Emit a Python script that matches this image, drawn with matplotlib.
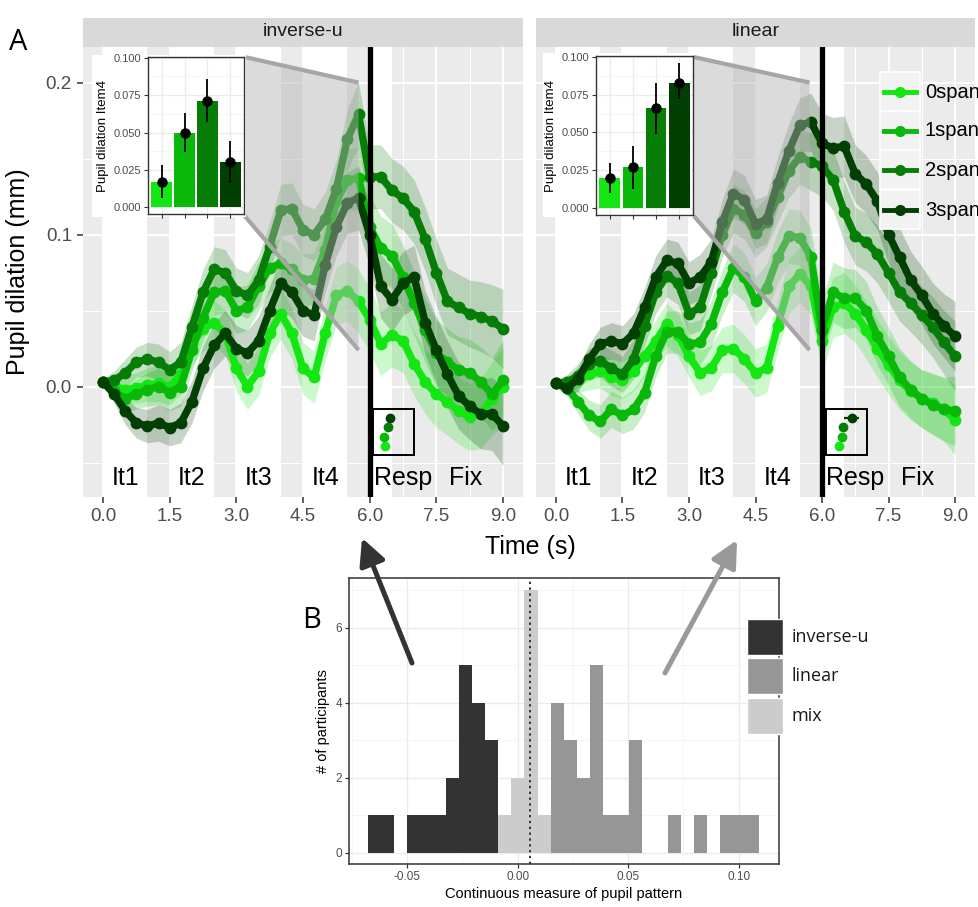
import matplotlib
matplotlib.use("Agg")
import matplotlib.pyplot as plt
from matplotlib.patches import Rectangle, Polygon, FancyArrowPatch
from matplotlib.lines import Line2D

plt.rcParams["font.family"] = ["Liberation Sans", "DejaVu Sans"]

W, H = 979, 907

# ---- panel A data ----
TIME = [0.0, 0.25, 0.5, 0.75, 1.0, 1.25, 1.5, 1.75, 2.0, 2.25, 2.5, 2.75, 3.0,
        3.25, 3.5, 3.75, 4.0, 4.25, 4.5, 4.75, 5.0, 5.25, 5.5, 5.75, 6.0, 6.25,
        6.5, 6.75, 7.0, 7.25, 7.5, 7.75, 8.0, 8.25, 8.5, 8.75, 9.0]
SPANS = ["0span", "1span", "2span", "3span"]
SPAN_COLORS = ["#14E614", "#0AB80A", "#067D06", "#023F02"]

INVU_0 = [0.003, 0.000, -0.002, -0.001, 0.001, 0.002, 0.000, 0.008, 0.028, 0.038, 0.042, 0.035, 0.012,
          0.000, 0.010, 0.035, 0.048, 0.035, 0.012, 0.006, 0.035, 0.060, 0.063, 0.056, 0.044, 0.028,
          0.034, 0.030, 0.015, 0.003, -0.005, -0.010, -0.016, -0.020, -0.018, -0.008, 0.000]
INVU_1 = [0.003, -0.003, -0.008, -0.005, -0.002, 0.000, -0.004, 0.000, 0.024, 0.045, 0.062, 0.063, 0.050,
          0.052, 0.066, 0.078, 0.081, 0.077, 0.070, 0.071, 0.090, 0.122, 0.136, 0.137, 0.105, 0.091,
          0.086, 0.072, 0.055, 0.037, 0.022, 0.016, 0.011, 0.009, 0.003, -0.005, 0.004]
INVU_2 = [0.003, 0.004, 0.009, 0.016, 0.018, 0.016, 0.011, 0.016, 0.039, 0.062, 0.077, 0.075, 0.063,
          0.060, 0.070, 0.092, 0.116, 0.117, 0.103, 0.100, 0.110, 0.130, 0.163, 0.179, 0.138, 0.138,
          0.129, 0.124, 0.115, 0.097, 0.075, 0.056, 0.052, 0.048, 0.046, 0.043, 0.038]
INVU_3 = [0.003, -0.005, -0.016, -0.024, -0.026, -0.024, -0.027, -0.024, -0.010, 0.012, 0.027, 0.035, 0.025,
          0.022, 0.030, 0.050, 0.068, 0.062, 0.050, 0.047, 0.080, 0.105, 0.121, 0.124, 0.100, 0.066,
          0.057, 0.068, 0.072, 0.042, 0.024, 0.008, -0.006, -0.013, -0.018, -0.018, -0.026]
SE_INVU = [0.002, 0.006, 0.009, 0.010, 0.011, 0.012, 0.012, 0.013, 0.014, 0.015, 0.015, 0.015, 0.015,
           0.015, 0.016, 0.016, 0.017, 0.017, 0.017, 0.017, 0.018, 0.019, 0.020, 0.021, 0.021, 0.021,
           0.021, 0.021, 0.021, 0.021, 0.022, 0.022, 0.022, 0.022, 0.023, 0.024, 0.026]

LIN_0 = [0.002, 0.002, 0.004, 0.008, 0.010, 0.006, 0.004, 0.010, 0.020, 0.030, 0.041, 0.034, 0.020,
         0.009, 0.012, 0.024, 0.025, 0.018, 0.009, 0.012, 0.040, 0.066, 0.074, 0.066, 0.030, 0.052,
         0.055, 0.048, 0.037, 0.025, 0.014, 0.004, -0.003, -0.008, -0.011, -0.015, -0.022]
LIN_1 = [0.002, -0.001, -0.010, -0.019, -0.023, -0.015, -0.019, -0.015, -0.004, 0.020, 0.036, 0.036, 0.028,
         0.029, 0.041, 0.062, 0.078, 0.072, 0.056, 0.065, 0.085, 0.099, 0.098, 0.085, 0.037, 0.062,
         0.058, 0.058, 0.050, 0.033, 0.020, 0.006, -0.002, -0.008, -0.012, -0.015, -0.016]
LIN_2 = [0.002, 0.003, 0.007, 0.015, 0.017, 0.012, 0.008, 0.018, 0.040, 0.062, 0.073, 0.068, 0.048,
         0.052, 0.075, 0.100, 0.117, 0.113, 0.101, 0.108, 0.125, 0.142, 0.151, 0.148, 0.145, 0.136,
         0.115, 0.099, 0.095, 0.087, 0.075, 0.062, 0.055, 0.047, 0.039, 0.029, 0.020]
LIN_3 = [0.002, -0.001, 0.005, 0.018, 0.028, 0.030, 0.028, 0.035, 0.052, 0.072, 0.083, 0.081, 0.068,
         0.072, 0.082, 0.108, 0.127, 0.123, 0.107, 0.110, 0.134, 0.155, 0.172, 0.174, 0.160, 0.157,
         0.158, 0.140, 0.133, 0.122, 0.100, 0.085, 0.070, 0.060, 0.048, 0.040, 0.033]
SE_LIN = [0.002, 0.005, 0.008, 0.010, 0.011, 0.012, 0.012, 0.013, 0.013, 0.014, 0.014, 0.014, 0.014,
          0.015, 0.015, 0.015, 0.016, 0.016, 0.016, 0.016, 0.017, 0.018, 0.018, 0.019, 0.020, 0.020,
          0.020, 0.019, 0.019, 0.019, 0.019, 0.019, 0.019, 0.019, 0.020, 0.021, 0.023]

# inset bars: pupil dilation during item 4
ITEM4_INVU = [0.017, 0.050, 0.071, 0.030]
ITEM4_INVU_LO = [0.006, 0.037, 0.057, 0.016]
ITEM4_INVU_HI = [0.028, 0.063, 0.086, 0.044]
ITEM4_LIN = [0.020, 0.027, 0.066, 0.083]
ITEM4_LIN_LO = [0.010, 0.013, 0.049, 0.072]
ITEM4_LIN_HI = [0.030, 0.041, 0.083, 0.096]

# small peak-latency boxes
PEAK_INVU_T = [6.35, 6.32, 6.41, 6.45]
PEAK_INVU_ERR = [0.02, 0.02, 0.03, 0.06]
PEAK_LIN_T = [6.39, 6.44, 6.48, 6.67]
PEAK_LIN_ERR = [0.02, 0.02, 0.03, 0.17]
PEAK_ROW = [-0.039, -0.0334, -0.0264, -0.021]

PHASES = ["It1", "It2", "It3", "It4", "Resp", "Fix"]
PHASE_X = [0.5, 2.0, 3.5, 5.0, 6.75, 8.15]
WHITE_BANDS = [(0, 1), (1.5, 2.5), (3, 4), (4.5, 5.5), (6, 6.5)]
X_TICKS = [0.0, 1.5, 3.0, 4.5, 6.0, 7.5, 9.0]
X_TICK_LABELS = ["0.0", "1.5", "3.0", "4.5", "6.0", "7.5", "9.0"]

# ---- panel B data ----
HIST_EDGE0 = -0.0676
HIST_BINW = 0.00589
GROUPS = ["inverse-u", "linear", "mix"]
GROUP_COLORS = ["#333333", "#969696", "#CCCCCC"]
COUNT_INVU = [1, 1, 0, 1, 1, 1, 2, 5, 4, 3, 0, 0, 0, 0, 0, 0, 0, 0, 0, 0, 0, 0, 0, 0, 0, 0, 0, 0, 0, 0]
COUNT_LIN = [0, 0, 0, 0, 0, 0, 0, 0, 0, 0, 0, 0, 0, 0, 4, 3, 2, 5, 1, 1, 3, 0, 0, 1, 0, 1, 0, 1, 1, 1]
COUNT_MIX = [0, 0, 0, 0, 0, 0, 0, 0, 0, 0, 1, 2, 7, 1, 0, 0, 0, 0, 0, 0, 0, 0, 0, 0, 0, 0, 0, 0, 0, 0]
SPLIT_X = 0.0056


def frect(x0, y0, x1, y1):
    return [x0 / W, 1 - y1 / H, (x1 - x0) / W, (y1 - y0) / H]


def fpt(x, y):
    return (x / W, 1 - y / H)


fig = plt.figure(figsize=(W / 100, H / 100), dpi=100)

panels = [
    dict(name="inverse-u", rect=(83, 47, 523, 497), series=[INVU_0, INVU_1, INVU_2, INVU_3], se=SE_INVU,
         bars=ITEM4_INVU, lo=ITEM4_INVU_LO, hi=ITEM4_INVU_HI, peak_t=PEAK_INVU_T, peak_err=PEAK_INVU_ERR,
         inset=(148, 57, 244, 214), inset_bg=(92, 55, 246, 217),
         zoom=[(3.19, 0.2168), (5.75, 0.200), (5.75, 0.024), (3.19, 0.1122)], box=(6.07, 6.99), ylab=True),
    dict(name="linear", rect=(536, 47, 975, 497), series=[LIN_0, LIN_1, LIN_2, LIN_3], se=SE_LIN,
         bars=ITEM4_LIN, lo=ITEM4_LIN_LO, hi=ITEM4_LIN_HI, peak_t=PEAK_LIN_T, peak_err=PEAK_LIN_ERR,
         inset=(596, 56, 693, 215), inset_bg=(543, 53, 694, 217),
         zoom=[(3.11, 0.2168), (5.72, 0.200), (5.72, 0.024), (3.11, 0.1122)], box=(6.09, 7.02), ylab=False),
]

for p in panels:
    ax = fig.add_axes(frect(*p["rect"]))
    ax.set_facecolor("#EBEBEB")
    ax.set_xlim(-0.45, 9.45)
    ax.set_ylim(-0.0727, 0.2234)
    ax.set_xticks(X_TICKS)
    ax.set_xticklabels(X_TICK_LABELS)
    ax.set_xticks([0.75, 2.25, 3.75, 5.25, 6.75, 8.25], minor=True)
    ax.set_yticks([0.0, 0.1, 0.2])
    ax.set_yticklabels(["0.0", "0.1", "0.2"])
    ax.set_yticks([-0.05, 0.05, 0.15], minor=True)
    ax.set_axisbelow(True)
    ax.grid(which="major", color="white", lw=1.3)
    ax.grid(which="minor", color="white", lw=0.7)
    for s in ax.spines.values():
        s.set_visible(False)
    ax.tick_params(which="minor", length=0)
    ax.tick_params(which="major", length=4, width=1.1, color="#333333",
                   labelsize=13.5, labelcolor="#4D4D4D", pad=4)
    if not p["ylab"]:
        ax.tick_params(axis="y", left=False, labelleft=False)

    for a, b in WHITE_BANDS:
        ax.axvspan(a, b, color="white", lw=0, zorder=0.8)

    for y, c in zip(p["series"], SPAN_COLORS):
        lo = [v - e for v, e in zip(y, p["se"])]
        hi = [v + e for v, e in zip(y, p["se"])]
        ax.fill_between(TIME, lo, hi, color=c, alpha=0.22, lw=0, zorder=2)
    for y, c in zip(p["series"], SPAN_COLORS):
        ax.plot(TIME, y, color=c, lw=5.3, marker="o", ms=7.5, zorder=3)

    ax.axvline(6.0, color="black", lw=3.8, zorder=5)

    poly = p["zoom"]
    ax.add_patch(Polygon(poly, closed=True, fc="#B0B0B0", ec="none", alpha=0.45, zorder=7, clip_on=False))
    ax.plot([poly[0][0], poly[1][0]], [poly[0][1], poly[1][1]], color="#A6A6A6", lw=3,
            solid_capstyle="butt", zorder=8, clip_on=False)
    ax.plot([poly[3][0], poly[2][0]], [poly[3][1], poly[2][1]], color="#A6A6A6", lw=3,
            solid_capstyle="butt", zorder=8, clip_on=False)

    b0, b1 = p["box"]
    ax.add_patch(Rectangle((b0, -0.0451), b1 - b0, 0.0303, fill=False, ec="black", lw=1.4, zorder=6))
    for t, y, e, c in zip(p["peak_t"], PEAK_ROW, p["peak_err"], SPAN_COLORS):
        ax.errorbar([t], [y], xerr=[e], fmt="o", color=c, ms=6, elinewidth=1.6, capsize=0, zorder=6)

    for lab, x in zip(PHASES, PHASE_X):
        ax.text(x, -0.0602, lab, ha="center", va="center", fontsize=18, color="black", zorder=6)

    # facet strip
    x0, y0, x1, y1 = p["rect"]
    fig.add_artist(Rectangle(fpt(x0, 47), (x1 - x0) / W, 29 / H, transform=fig.transFigure,
                             fc="#D9D9D9", ec="none", zorder=1))
    fig.text((x0 + x1) / 2 / W, 1 - 32 / H, p["name"], ha="center", va="center",
             fontsize=14, color="#1A1A1A")

    # inset bar chart
    bx0, by0, bx1, by1 = p["inset_bg"]
    fig.add_artist(Rectangle(fpt(bx0, by1), (bx1 - bx0) / W, (by1 - by0) / H, transform=fig.transFigure,
                             fc="white", ec="none", zorder=2))
    iax = fig.add_axes(frect(*p["inset"]))
    iax.set_zorder(3)
    iax.set_facecolor("white")
    cats = [1, 2, 3, 4]
    iax.bar(cats, p["bars"], width=0.9, color=SPAN_COLORS, zorder=2)
    err = [[m - l for m, l in zip(p["bars"], p["lo"])], [h - m for m, h in zip(p["bars"], p["hi"])]]
    iax.errorbar(cats, p["bars"], yerr=err, fmt="o", color="black", ms=6.5, elinewidth=1.3,
                 capsize=0, zorder=3)
    iax.set_xlim(0.4, 4.6)
    iax.set_ylim(-0.0045, 0.1005)
    iax.set_xticks(cats)
    iax.set_xticklabels([])
    iax.set_yticks([0.0, 0.025, 0.05, 0.075, 0.1])
    iax.set_yticklabels(["0.000", "0.025", "0.050", "0.075", "0.100"])
    iax.set_yticks([0.0125, 0.0375, 0.0625, 0.0875], minor=True)
    iax.set_axisbelow(True)
    iax.grid(which="major", color="#EBEBEB", lw=0.9)
    iax.grid(which="minor", axis="y", color="#F4F4F4", lw=0.6)
    iax.tick_params(which="minor", length=0)
    iax.tick_params(which="major", length=3, width=0.8, color="#333333", labelsize=8,
                    labelcolor="#4D4D4D", pad=2)
    for s in iax.spines.values():
        s.set_color("#333333")
        s.set_linewidth(1.0)
    iax.set_ylabel("Pupil dilation Item4", fontsize=9.5, color="black", labelpad=3)

# axis titles for panel A
fig.text(530 / W, 1 - 547 / H, "Time (s)", ha="center", va="center", fontsize=18)
fig.text(18 / W, 1 - 272 / H, "Pupil dilation (mm)", ha="center", va="center",
         rotation=90, fontsize=18)
fig.text(18 / W, 1 - 42 / H, "A", ha="center", va="center", fontsize=21, family=["Open Sans", "DejaVu Sans"])
fig.text(312 / W, 1 - 620 / H, "B", ha="center", va="center", fontsize=21, family=["Open Sans", "DejaVu Sans"])

# legend for panel A (sits inside the right panel, clipped at the figure edge)
key_top = [72, 111, 150, 190]
for lab, c, kt in zip(SPANS, SPAN_COLORS, key_top):
    fig.add_artist(Rectangle(fpt(880, kt + 39), 40 / W, 39 / H, transform=fig.transFigure,
                             fc="#F2F2F2", ec="white", lw=1.2, zorder=4))
    yc = 1 - (kt + 20) / H
    fig.add_artist(Line2D([884 / W, 916 / W], [yc, yc], transform=fig.transFigure,
                          color=c, lw=3.5, zorder=5))
    fig.add_artist(Line2D([900 / W], [yc], transform=fig.transFigure, color=c,
                          marker="o", ms=7, lw=0, zorder=5))
    fig.text(925 / W, yc, lab, ha="left", va="center", fontsize=14.5, color="black", zorder=5)

# ---- panel B ----
bax = fig.add_axes(frect(349, 578, 779, 864))
bax.set_facecolor("white")
centers = [HIST_EDGE0 + (k + 0.5) * HIST_BINW for k in range(len(COUNT_INVU))]
for counts, c in zip([COUNT_INVU, COUNT_LIN, COUNT_MIX], GROUP_COLORS):
    bax.bar(centers, counts, width=HIST_BINW, color=c, lw=0, zorder=2)
bax.axvline(SPLIT_X, color="#333333", ls=(0, (1.2, 1.8)), lw=1.4, zorder=3)
bax.set_xlim(-0.0763, 0.1182)
bax.set_ylim(-0.3, 7.325)
bax.set_xticks([-0.05, 0.0, 0.05, 0.10])
bax.set_xticklabels(["-0.05", "0.00", "0.05", "0.10"])
bax.set_xticks([-0.075, -0.025, 0.025, 0.075], minor=True)
bax.set_yticks([0, 2, 4, 6])
bax.set_yticks([1, 3, 5, 7], minor=True)
bax.set_axisbelow(True)
bax.grid(which="major", color="#EBEBEB", lw=1.0)
bax.grid(which="minor", color="#F4F4F4", lw=0.6)
bax.tick_params(which="minor", length=0)
bax.tick_params(which="major", length=3, width=0.9, color="#333333", labelsize=8.5,
                labelcolor="#4D4D4D", pad=2)
for s in bax.spines.values():
    s.set_color("#333333")
    s.set_linewidth(1.1)
bax.set_xlabel("Continuous measure of pupil pattern", fontsize=10.5, labelpad=3)
bax.set_ylabel("# of participants", fontsize=10.5, labelpad=4)

# legend for panel B
key_tops_b = [619, 658, 698]
for lab, c, kt in zip(GROUPS, GROUP_COLORS, key_tops_b):
    fig.add_artist(Rectangle(fpt(747, kt + 36), 36 / W, 36 / H, transform=fig.transFigure,
                             fc=c, ec="white", lw=1.0, zorder=4))
    fig.text(792 / W, 1 - (kt + 18) / H, lab, ha="left", va="center", fontsize=13,
             color="#1A1A1A", family=["Open Sans", "DejaVu Sans"], zorder=5)

# arrows linking B to the two facets
for tail, head, c in [((412, 663), (362, 538), "#333333"), ((665, 673), (737, 540), "#999999")]:
    fig.add_artist(FancyArrowPatch(fpt(*tail), fpt(*head), transform=fig.transFigure,
                                   arrowstyle="-|>,head_length=1.0,head_width=0.5", mutation_scale=16,
                                   lw=3.6, color=c, shrinkA=0, shrinkB=0, zorder=6))

fig.savefig("out.png", dpi=100)
